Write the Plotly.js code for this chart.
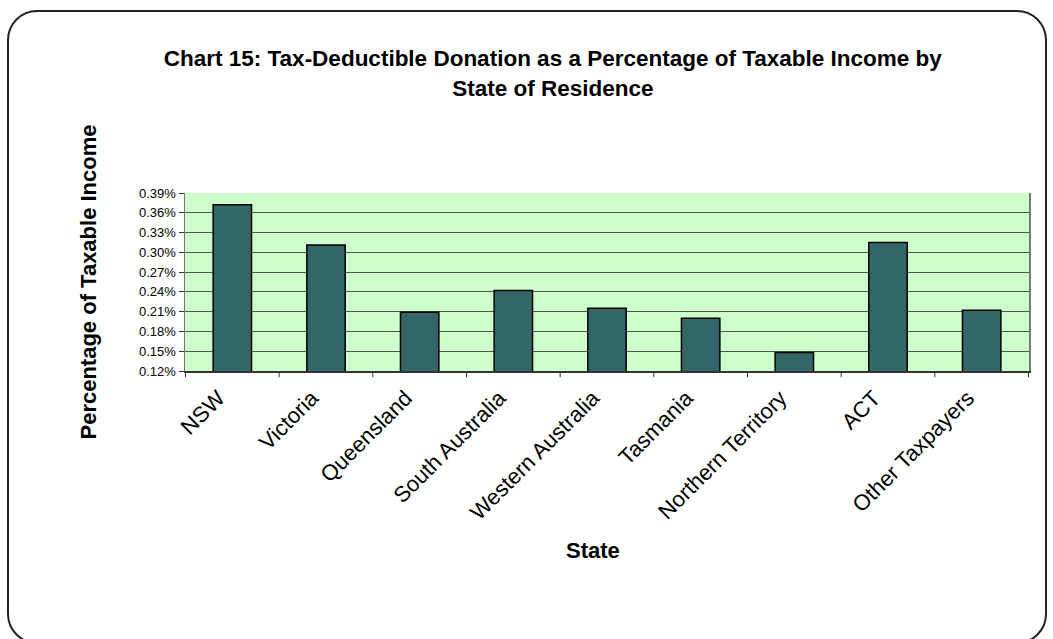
<!DOCTYPE html>
<html>
<head>
<meta charset="utf-8">
<script src="https://cdn.plot.ly/plotly-3.0.1.min.js"></script>
<style>
  html, body { margin: 0; padding: 0; background: #fff; overflow: hidden; }
  #wrap { position: relative; width: 1053px; height: 639px; }
  #chart { width: 1053px; height: 639px; }
  #frame { position: absolute; left: 7px; top: 10px; width: 1036px; height: 630px;
           border: 2px solid #222; border-radius: 30px; pointer-events: none; }
</style>
</head>
<body>
<div id="wrap">
  <div id="chart"></div>
  <div id="frame"></div>
</div>
<script>
const categories = ["NSW", "Victoria", "Queensland", "South Australia", "Western Australia",
                    "Tasmania", "Northern Territory", "ACT", "Other Taxpayers"];
const values = [0.00372, 0.00311, 0.00209, 0.00242, 0.00215, 0.00200, 0.00148, 0.00315, 0.00212];
const yTickVals = [0.0012, 0.0015, 0.0018, 0.0021, 0.0024, 0.0027, 0.0030, 0.0033, 0.0036, 0.0039];
const yTickText = ["0.12%", "0.15%", "0.18%", "0.21%", "0.24%", "0.27%", "0.30%", "0.33%", "0.36%", "0.39%"];

const trace = {
  type: "bar",
  x: categories,
  y: values,
  base: 0,
  marker: { color: "#336666", line: { color: "#000000", width: 1.5 } },
  hoverinfo: "x+y"
};

const font = "Arial, 'Liberation Sans', sans-serif";

const layout = {
  width: 1053,
  height: 639,
  margin: { l: 185, r: 24, t: 193, b: 268 },
  paper_bgcolor: "#ffffff",
  plot_bgcolor: "#CCFFCC",
  showlegend: false,
  bargap: 0.59,
  font: { family: font, color: "#000" },
  title: {
    text: "<b>Chart 15: Tax-Deductible Donation as a Percentage of Taxable Income by<br>State of Residence</b>",
    font: { family: font, size: 22.5, color: "#000" },
    x: 0.525, xref: "container", xanchor: "center",
    y: 0.896, yref: "container", yanchor: "top"
  },
  xaxis: {
    type: "category",
    tickangle: -45,
    tickfont: { family: font, size: 22, color: "#000" },
    ticklabelshift: -14,
    ticklabelstandoff: 4,
    ticks: "",
    showline: true, linecolor: "#333", linewidth: 1.5,
    showgrid: false,
    automargin: false
  },
  yaxis: {
    range: [0.0012, 0.0039],
    tickvals: yTickVals,
    ticktext: yTickText,
    tickfont: { family: font, size: 13, color: "#000" },
    ticks: "outside", ticklen: 5, tickcolor: "#333",
    showline: true, linecolor: "#777", linewidth: 1.5, mirror: true,
    showgrid: true, gridcolor: "#555", gridwidth: 1,
    zeroline: false,
    title: { text: "<b>Percentage of Taxable Income</b>", font: { family: font, size: 22, color: "#000" }, standoff: 36 },
    automargin: false
  },
  annotations: [{
    text: "<b>State</b>",
    xref: "paper", yref: "paper",
    x: (593 - 185) / 844, y: -1.01,
    xanchor: "center", yanchor: "middle",
    showarrow: false,
    font: { family: font, size: 22, color: "#000" }
  }],
  shapes: categories.concat([null]).map((c, i) => ({
    type: "line", xref: "x", yref: "paper",
    x0: i - 0.5, x1: i - 0.5, y0: 0, y1: -0.035,
    line: { color: "#333", width: 1 }
  }))
};

Plotly.newPlot("chart", [trace], layout, { displayModeBar: false, staticPlot: true });
</script>
</body>
</html>
